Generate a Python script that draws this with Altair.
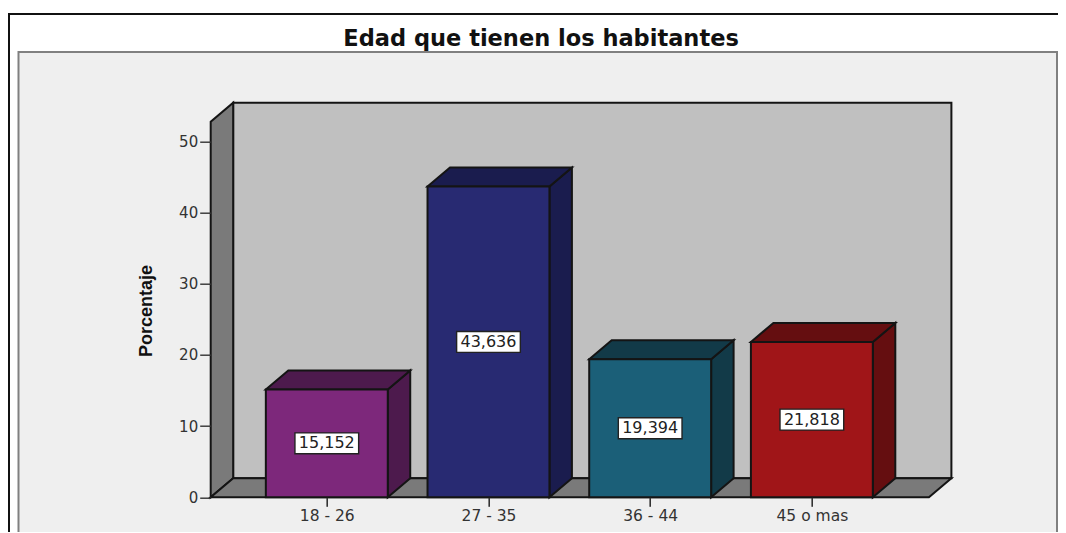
import json
import altair as alt
import pandas as pd

# ---- data ----
categories = ["18 - 26", "27 - 35", "36 - 44", "45 o mas"]
percent = [15.152, 43.636, 19.394, 21.818]
y_ticks = [0, 10, 20, 30, 40, 50]
chart_title = "Edad que tienen los habitantes"
y_title = "Porcentaje"

# ---- styles ----
front_colours = ["#7D287B", "#282A72", "#1B5F78", "#A01518"]
side_colours = ["#4D1A4D", "#1A1C4E", "#123A48", "#650E10"]
INK = "#141414"
EDGE = 2

# ---- geometry in axis units (category index, percent) ----
HALF = 0.377      # half bar width
DX = 0.139        # 3D depth along x
DY = 2.67         # 3D depth along y
XMIN, XMAX = -0.718, 3.863
YTOP = 55.42

# page pixel -> plot-area pixel
LEFT, TOP, PLOT_W, PLOT_H = 210.7, 102.7, 740.7, 394.6
def px(v):
    return v - LEFT
def py(v):
    return v - TOP

idx = list(range(len(categories)))
front = pd.DataFrame({
    "cat": categories,
    "i": idx,
    "x0": [i - HALF for i in idx],
    "x1": [i + HALF for i in idx],
    "v": percent,
    "base": [0] * len(idx),
    "mid": [v / 2 for v in percent],
    "boxl": [i - 0.197 for i in idx],
    "boxr": [i + 0.197 for i in idx],
    "boxb": [v / 2 - 1.47 for v in percent],
    "boxt": [v / 2 + 1.47 for v in percent],
    "label": [f"{v:.3f}".replace(".", ",") for v in percent],
})

side_rows, top_rows = [], []
for i, c, v in zip(idx, categories, percent):
    side_rows += [
        {"cat": c, "x": i + HALF, "lo": 0, "hi": v},
        {"cat": c, "x": i + HALF + DX, "lo": DY, "hi": v + DY},
    ]
    top_rows += [
        {"cat": c, "y": v, "l": i - HALF, "r": i + HALF},
        {"cat": c, "y": v + DY, "l": i - HALF + DX, "r": i + HALF + DX},
    ]
side = pd.DataFrame(side_rows)
tops = pd.DataFrame(top_rows)

xs = alt.Scale(domain=[XMIN, XMAX], nice=False, zero=False)
ys = alt.Scale(domain=[0, YTOP], nice=False, zero=False)
label_expr = "%s[datum.value]" % json.dumps(categories)

one = pd.DataFrame({"a": [0]})

frame_top = alt.Chart(one).mark_rule(color="#111111", strokeWidth=2).encode(
    x=alt.value(px(8)), x2=alt.value(px(1058)), y=alt.value(py(14)))
frame_left = alt.Chart(one).mark_rule(color="#111111", strokeWidth=2).encode(
    x=alt.value(px(9)), y=alt.value(py(14)), y2=alt.value(py(533)))
panel = alt.Chart(one).mark_rect(fill="#EFEFEF", stroke="#808080", strokeWidth=2).encode(
    x=alt.value(px(18.5)), x2=alt.value(px(1057)),
    y=alt.value(py(52)), y2=alt.value(py(545)))

# axes live on this layer
back = alt.Chart(pd.DataFrame({"x0": [XMIN + DX], "x1": [XMAX], "y0": [DY], "y1": [YTOP]})).mark_rect(
    fill="#C0C0C0", stroke=INK, strokeWidth=EDGE
).encode(
    x=alt.X("x0:Q", scale=xs, title=None,
            axis=alt.Axis(values=idx, labelExpr=label_expr, grid=False, domain=False,
                          tickSize=9, tickWidth=1.6, tickColor="#333333",
                          labelFont="DejaVu Sans", labelFontSize=15.5, labelColor="#333333",
                          labelPadding=2, labelAngle=0, labelOverlap=False, zindex=1)),
    x2="x1:Q",
    y=alt.Y("y0:Q", scale=ys, title=y_title,
            axis=alt.Axis(values=y_ticks, grid=False, domain=False,
                          tickSize=11, tickWidth=1.4, tickColor="#333333",
                          labelFont="DejaVu Sans", labelFontSize=15, labelColor="#333333",
                          labelPadding=2, titleFont="Liberation Sans", titleFontWeight="bold",
                          titleFontSize=18, titleColor="#111111",
                          titleX=px(155), titleY=py(310.5), zindex=1)),
    y2="y1:Q",
)

wall = alt.Chart(pd.DataFrame({"x": [XMIN, XMIN + DX], "lo": [0, DY], "hi": [YTOP - DY, YTOP]})).mark_area(
    fill="#7A7A7A", stroke=INK, strokeWidth=EDGE
).encode(x=alt.X("x:Q", scale=xs), y=alt.Y("lo:Q", scale=ys), y2="hi:Q")

floor = alt.Chart(pd.DataFrame({"y": [0, DY], "l": [XMIN, XMIN + DX], "r": [XMAX - DX, XMAX]})).mark_area(
    orient="horizontal", fill="#7A7A7A", stroke=INK, strokeWidth=EDGE
).encode(y=alt.Y("y:Q", scale=ys), x=alt.X("l:Q", scale=xs), x2="r:Q")

side_scale = alt.Scale(domain=categories, range=side_colours)
side_faces = alt.Chart(side).mark_area(stroke=INK, strokeWidth=EDGE).encode(
    x=alt.X("x:Q", scale=xs), y=alt.Y("lo:Q", scale=ys), y2="hi:Q",
    fill=alt.Fill("cat:N", scale=side_scale, legend=None))
top_faces = alt.Chart(tops).mark_area(orient="horizontal", stroke=INK, strokeWidth=EDGE).encode(
    y=alt.Y("y:Q", scale=ys), x=alt.X("l:Q", scale=xs), x2="r:Q",
    fill=alt.Fill("cat:N", scale=side_scale, legend=None))
front_faces = alt.Chart(front).mark_rect(stroke=INK, strokeWidth=EDGE).encode(
    x=alt.X("x0:Q", scale=xs), x2="x1:Q",
    y=alt.Y("base:Q", scale=ys), y2="v:Q",
    fill=alt.Fill("cat:N", scale=alt.Scale(domain=categories, range=front_colours), legend=None))

boxes = alt.Chart(front).mark_rect(fill="white", stroke="#222222", strokeWidth=1.4).encode(
    x=alt.X("boxl:Q", scale=xs), x2="boxr:Q",
    y=alt.Y("boxb:Q", scale=ys), y2="boxt:Q")
texts = alt.Chart(front).mark_text(font="DejaVu Sans", fontSize=16, color="#222222").encode(
    x=alt.X("i:Q", scale=xs), y=alt.Y("mid:Q", scale=ys), text="label:N")

chart = alt.layer(
    frame_top, frame_left, panel, back, wall, floor,
    side_faces, top_faces, front_faces, boxes, texts
).resolve_scale(fill="independent").properties(
    width=PLOT_W, height=PLOT_H,
    autosize=alt.AutoSizeParams(type="none"),
    padding={"left": LEFT - 8, "top": TOP - 8, "right": 1058 - LEFT - PLOT_W, "bottom": 533 - TOP - PLOT_H - 1},
    background="white",
    title=alt.TitleParams(chart_title, font="DejaVu Sans", fontWeight="bold", fontSize=22.5,
                          color="#111111", anchor="middle", frame="group",
                          dx=-40, offset=-37),
).configure_view(strokeWidth=0)

chart.save("out.html", embed_options={"renderer": "svg", "actions": False})
